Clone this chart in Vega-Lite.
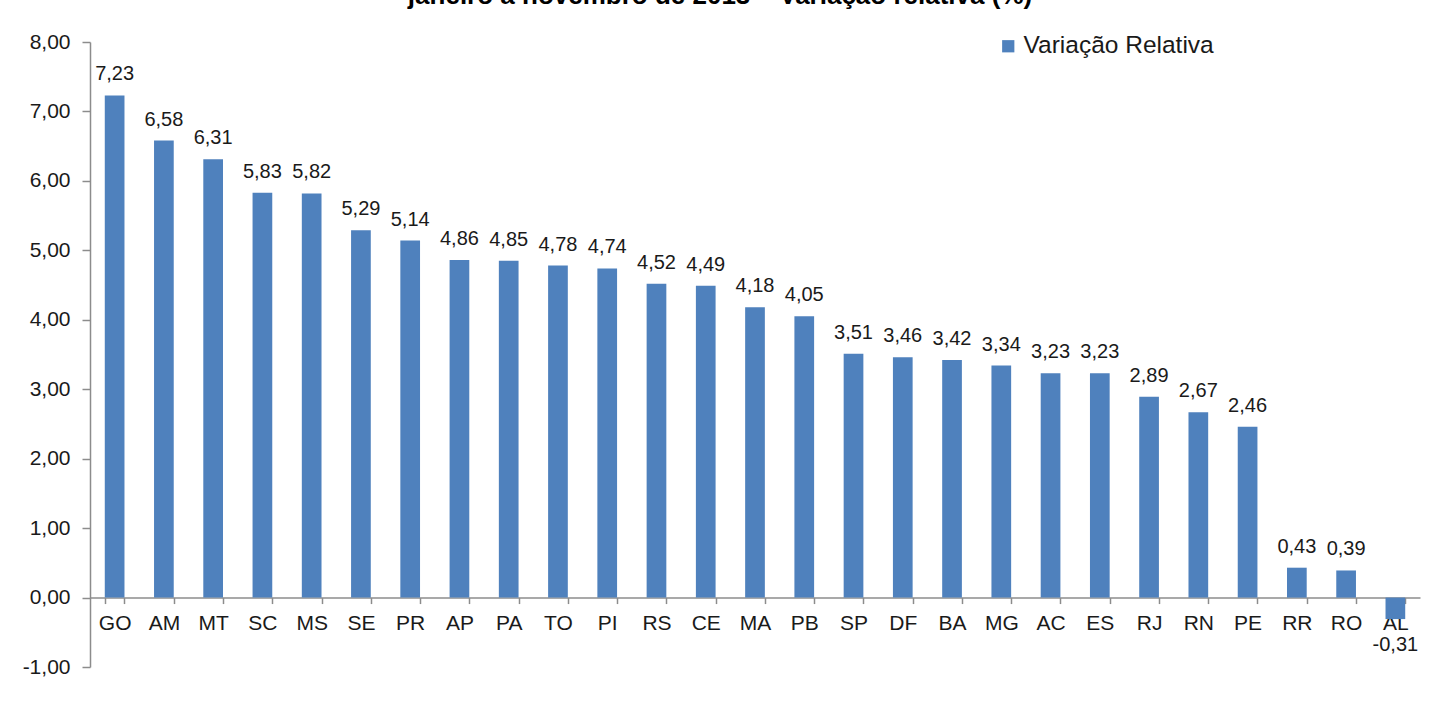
{
  "$schema": "https://vega.github.io/schema/vega-lite/v6.json",
  "width": 1330,
  "height": 625,
  "autosize": {"type": "none"},
  "padding": {"left": 90, "top": 42, "right": 11, "bottom": 56},
  "background": "#ffffff",
  "title": {
    "text": "janeiro a novembro de 2013 – Variação relativa (%)",
    "font": "Liberation Sans",
    "fontSize": 26,
    "fontWeight": "bold",
    "color": "#000000",
    "baseline": "alphabetic",
    "offset": 1,
    "dx": -35
  },
  "data": {
    "values": [
      {"uf": "GO", "valor": 7.23, "serie": "Variação Relativa"},
      {"uf": "AM", "valor": 6.58, "serie": "Variação Relativa"},
      {"uf": "MT", "valor": 6.31, "serie": "Variação Relativa"},
      {"uf": "SC", "valor": 5.83, "serie": "Variação Relativa"},
      {"uf": "MS", "valor": 5.82, "serie": "Variação Relativa"},
      {"uf": "SE", "valor": 5.29, "serie": "Variação Relativa"},
      {"uf": "PR", "valor": 5.14, "serie": "Variação Relativa"},
      {"uf": "AP", "valor": 4.86, "serie": "Variação Relativa"},
      {"uf": "PA", "valor": 4.85, "serie": "Variação Relativa"},
      {"uf": "TO", "valor": 4.78, "serie": "Variação Relativa"},
      {"uf": "PI", "valor": 4.74, "serie": "Variação Relativa"},
      {"uf": "RS", "valor": 4.52, "serie": "Variação Relativa"},
      {"uf": "CE", "valor": 4.49, "serie": "Variação Relativa"},
      {"uf": "MA", "valor": 4.18, "serie": "Variação Relativa"},
      {"uf": "PB", "valor": 4.05, "serie": "Variação Relativa"},
      {"uf": "SP", "valor": 3.51, "serie": "Variação Relativa"},
      {"uf": "DF", "valor": 3.46, "serie": "Variação Relativa"},
      {"uf": "BA", "valor": 3.42, "serie": "Variação Relativa"},
      {"uf": "MG", "valor": 3.34, "serie": "Variação Relativa"},
      {"uf": "AC", "valor": 3.23, "serie": "Variação Relativa"},
      {"uf": "ES", "valor": 3.23, "serie": "Variação Relativa"},
      {"uf": "RJ", "valor": 2.89, "serie": "Variação Relativa"},
      {"uf": "RN", "valor": 2.67, "serie": "Variação Relativa"},
      {"uf": "PE", "valor": 2.46, "serie": "Variação Relativa"},
      {"uf": "RR", "valor": 0.43, "serie": "Variação Relativa"},
      {"uf": "RO", "valor": 0.39, "serie": "Variação Relativa"},
      {"uf": "AL", "valor": -0.31, "serie": "Variação Relativa"}
    ]
  },
  "encoding": {
    "x": {
      "field": "uf",
      "type": "nominal",
      "sort": null,
      "scale": {"paddingInner": 0.6, "paddingOuter": 0.3},
      "axis": {
        "title": null,
        "offset": -69.44,
        "labelAngle": 0,
        "tickBand": "extent",
        "tickSize": 6,
        "labelPadding": 9,
        "labelFontSize": 21,
        "labelFont": "Liberation Sans",
        "labelColor": "#1a1a1a",
        "domainColor": "#8c8c8c",
        "tickColor": "#8c8c8c",
        "domainWidth": 1.5,
        "tickWidth": 1.5,
        "grid": false
      }
    },
    "y": {
      "field": "valor",
      "type": "quantitative",
      "scale": {"domain": [-1, 8], "nice": false, "zero": false},
      "axis": {
        "title": null,
        "values": [-1, 0, 1, 2, 3, 4, 5, 6, 7, 8],
        "format": ".2f",
        "grid": false,
        "tickSize": 8,
        "labelPadding": 12,
        "labelFontSize": 21,
        "labelFont": "Liberation Sans",
        "labelColor": "#1a1a1a",
        "domainColor": "#8c8c8c",
        "tickColor": "#8c8c8c",
        "domainWidth": 1.5,
        "tickWidth": 1.5
      }
    }
  },
  "layer": [
    {
      "mark": {"type": "bar"},
      "encoding": {
        "color": {
          "field": "serie",
          "type": "nominal",
          "scale": {"range": ["#4f81bd"]},
          "legend": {
            "title": null,
            "orient": "none",
            "legendX": 906,
            "legendY": -8,
            "padding": 0,
            "symbolType": "square",
            "symbolSize": 150,
            "symbolStrokeWidth": 0,
            "labelFontSize": 24.5,
            "labelFont": "Liberation Sans",
            "labelColor": "#1a1a1a",
            "labelOffset": 3,
            "labelLimit": 0
          }
        }
      }
    },
    {
      "transform": [{"filter": "datum.valor >= 0"}],
      "mark": {"type": "text", "baseline": "alphabetic", "dy": -15, "fontSize": 20, "font": "Liberation Sans", "color": "#1a1a1a"},
      "encoding": {
        "text": {"field": "valor", "type": "quantitative", "format": ".2f"}
      }
    },
    {
      "transform": [{"filter": "datum.valor < 0"}],
      "mark": {"type": "text", "baseline": "top", "dy": 16, "fontSize": 20, "font": "Liberation Sans", "color": "#1a1a1a"},
      "encoding": {
        "text": {"field": "valor", "type": "quantitative", "format": ".2f"}
      }
    }
  ],
  "config": {
    "locale": {
      "number": {"decimal": ",", "thousands": ".", "grouping": [3], "currency": ["R$", ""], "minus": "-"}
    },
    "view": {"stroke": null}
  }
}
